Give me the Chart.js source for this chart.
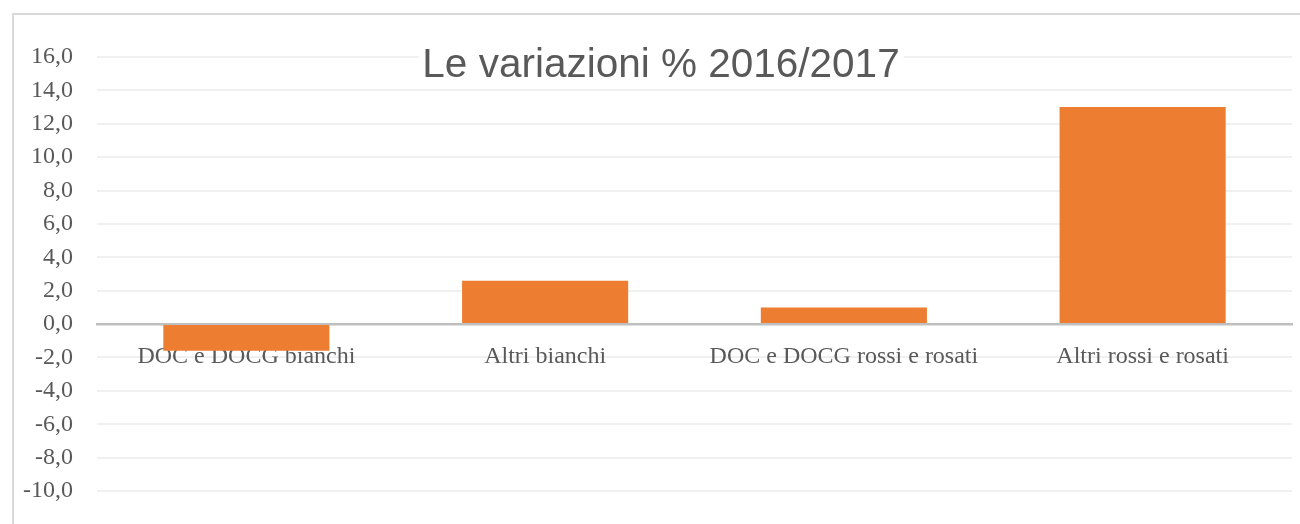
<!DOCTYPE html>
<html lang="it">
<head>
<meta charset="utf-8">
<title>Le variazioni % 2016/2017</title>
<script src="https://cdn.jsdelivr.net/npm/chart.js@4"></script>
<style>
  html, body { margin: 0; padding: 0; background: #ffffff; overflow: hidden; }
  .frame {
    position: absolute;
    left: 12px;
    top: 13px;
    width: 1400px;
    height: 600px;
    border: 2px solid #d9d9d9;
  }
  #varChart { position: absolute; left: 0; top: 0; }
</style>
</head>
<body>
<div class="frame"></div>
<canvas id="varChart" width="1300" height="524"></canvas>
<script>
// dati del grafico
const chartTitle = "Le variazioni % 2016/2017";
const categories = [
  "DOC e DOCG bianchi",
  "Altri bianchi",
  "DOC e DOCG rossi e rosati",
  "Altri rossi e rosati",
];
const variazioni = [-1.6, 2.6, 1.0, 13.0];
const yMin = -10;
const yMax = 16;
const yStep = 2;

const textColor = "#595959";
const barColor = "#ed7d31";
const serifFont = "'Liberation Serif', 'Times New Roman', serif";

// titolo disegnato sopra la griglia, con sfondo bianco
const titlePlugin = {
  id: "excelTitle",
  afterDraw(chart) {
    const ctx = chart.ctx;
    ctx.save();
    ctx.font = "40.5px 'Liberation Sans', Arial, sans-serif";
    const w = ctx.measureText(chartTitle).width;
    const cx = 661;
    ctx.fillStyle = "#ffffff";
    ctx.fillRect(cx - w / 2 - 4, 42, w + 8, 40);
    ctx.fillStyle = textColor;
    ctx.textAlign = "center";
    ctx.textBaseline = "alphabetic";
    ctx.fillText(chartTitle, cx, 77);
    ctx.restore();
  },
};

document.addEventListener("DOMContentLoaded", function () {
  const config = {
    type: "bar",
    data: {
      labels: categories,
      datasets: [
        {
          label: chartTitle,
          data: variazioni,
          backgroundColor: barColor,
          borderWidth: 0,
          categoryPercentage: 1,
          barPercentage: 0.556,
        },
      ],
    },
    options: {
      responsive: false,
      animation: false,
      layout: {
        padding: { top: 57, right: 8, bottom: 33, left: 0 },
      },
      plugins: {
        legend: { display: false },
        title: { display: false },
        tooltip: { enabled: false },
      },
      scales: {
        x: {
          position: { y: 0 }, // etichette accanto all'asse dello zero
          z: 1, // linea dello zero sopra le barre
          grid: { display: false, drawTicks: false },
          border: { display: true, color: "#bfbfbf", width: 2.5 },
          ticks: {
            color: textColor,
            padding: 18,
            font: { family: serifFont, size: 24 },
          },
        },
        y: {
          min: yMin,
          max: yMax,
          afterFit(scale) {
            scale.width = 97;
          },
          // spazio tra etichette e griglia con tickLength (tacche invisibili)
          grid: {
            color: "#f0f0f0",
            lineWidth: 2,
            drawTicks: true,
            tickLength: 24,
            tickColor: "rgba(0,0,0,0)",
          },
          border: { display: false },
          ticks: {
            stepSize: yStep,
            padding: 0,
            color: textColor,
            font: { family: serifFont, size: 24 },
            callback: (value) => value.toFixed(1).replace(".", ","),
          },
        },
      },
    },
    plugins: [titlePlugin],
  };

  new Chart(document.getElementById("varChart"), config);
});
</script>
</body>
</html>
